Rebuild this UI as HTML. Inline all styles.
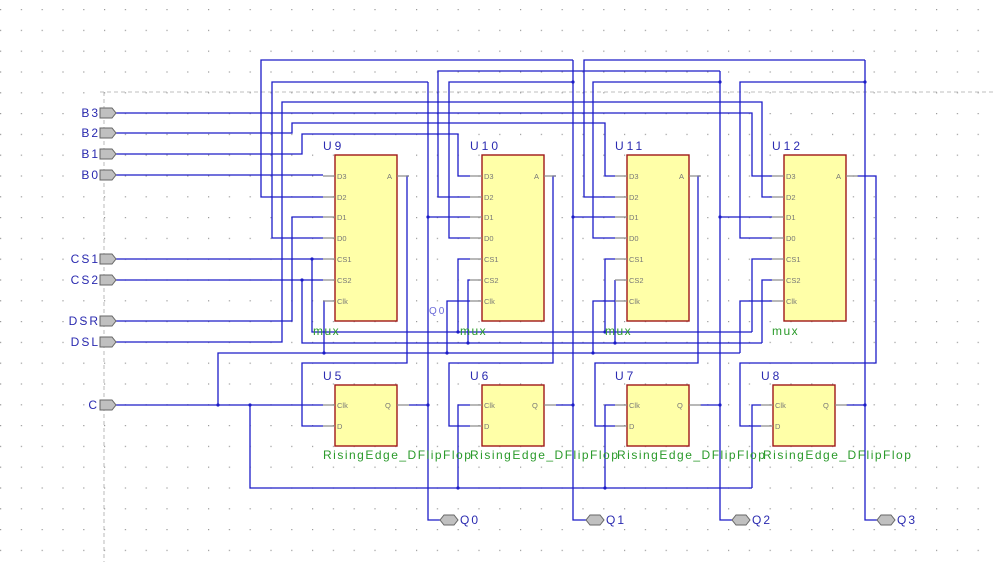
<!DOCTYPE html>
<html><head><style>
html,body{margin:0;padding:0;background:#fff;}
svg{display:block;}
.w{stroke:#1c1cc8;stroke-width:1.3;fill:none;}
.st{stroke:#888;stroke-width:1.2;}
.bx{fill:#ffffa8;stroke:#a01818;stroke-width:1.4;}
.pin{font:7.5px "Liberation Sans",sans-serif;fill:#777;}
.lab{font:12px "Liberation Sans",sans-serif;fill:#2a2ab0;letter-spacing:3px;}
.grn{font:12px "Liberation Sans",sans-serif;fill:#2a9a2a;letter-spacing:1.5px;}
.port{fill:#c0c0c0;stroke:#666;stroke-width:1;}
</style></head><body>
<svg width="996" height="562" viewBox="0 0 996 562" xmlns="http://www.w3.org/2000/svg">
<defs>
<pattern id="g" x="0" y="9" width="20.8" height="20.8" patternUnits="userSpaceOnUse">
<rect x="0" y="0" width="1.2" height="1.2" fill="#999"/>
</pattern>
</defs>
<rect width="996" height="562" fill="url(#g)"/>
<line x1="100" y1="92" x2="996" y2="92" stroke="#aaa" stroke-dasharray="4,3" stroke-width="0.8"/>
<line x1="104" y1="92" x2="104" y2="562" stroke="#aaa" stroke-dasharray="4,3" stroke-width="0.8"/>

<g class="w">
<!-- inputs -->
<polyline points="116,113 752,113 752,176 772,176"/>
<polyline points="116,133 292,133 292,123 605,123 605,176 615,176"/>
<polyline points="116,154 302,154 302,134 458,134 458,176 470,176"/>
<polyline points="116,175 323,175"/>
<polyline points="116,259 323,259"/>
<polyline points="116,280 323,280"/>
<polyline points="116,321 292,321 292,217 323,217"/>
<polyline points="116,342 282,342 282,102 762,102 762,197 772,197"/>
<polyline points="116,405 323,405"/>
<!-- CS buses -->
<polyline points="312,259 312,332 752,332"/>
<polyline points="458,332 458,259 470,259"/>
<polyline points="605,332 605,259 615,259"/>
<polyline points="752,332 752,259 772,259"/>
<polyline points="302,280 302,343 762,343"/>
<polyline points="468,343 468,280 470,280"/>
<polyline points="615,343 615,280 615,280"/>
<polyline points="762,343 762,280 772,280"/>
<!-- mux clocks -->
<polyline points="218,405 218,353 740,353"/>
<polyline points="324,353 324,301 323,301"/>
<polyline points="447,353 447,301 470,301"/>
<polyline points="593,353 593,301 615,301"/>
<polyline points="740,353 740,301 772,301"/>
<!-- FF clocks -->
<polyline points="250,405 250,488 752,488"/>
<polyline points="458,488 458,405 470,405"/>
<polyline points="605,488 605,405 615,405"/>
<polyline points="752,488 752,405 761,405"/>
<!-- mux outputs to FF D -->
<polyline points="409,176 407,176 407,363 302,363 302,426 323,426"/>
<polyline points="556,176 553,176 553,363 449,363 449,426 470,426"/>
<polyline points="700,176 698,176 698,363 595,363 595,426 615,426"/>
<polyline points="857,176 876,176 876,363 740,363 740,426 761,426"/>
<!-- FF outputs -->
<polyline points="409,405 428,405"/>
<polyline points="556,405 573,405"/>
<polyline points="700,405 720,405"/>
<polyline points="846,405 865,405"/>
<polyline points="428,82 428,520 440,520"/>
<polyline points="428,82 272,82 272,238 323,238"/>
<polyline points="428,217 470,217"/>
<polyline points="573,60 573,520 586,520"/>
<polyline points="573,60 261,60 261,197 323,197"/>
<polyline points="573,82 449,82 449,238 470,238"/>
<polyline points="573,217 615,217"/>
<polyline points="720,71 720,520 732,520"/>
<polyline points="720,71 438,71 438,197 470,197"/>
<polyline points="720,82 593,82 593,238 615,238"/>
<polyline points="720,217 772,217"/>
<polyline points="865,60 865,520 877,520"/>
<polyline points="865,60 584,60 584,197 615,197"/>
<polyline points="865,82 740,82 740,238 772,238"/>
</g>
<g fill="#1c1cc8">
<circle cx="312" cy="259" r="1.6"/><circle cx="302" cy="280" r="1.6"/><circle cx="218" cy="405" r="1.6"/><circle cx="250" cy="405" r="1.6"/>
<circle cx="428" cy="217" r="1.6"/><circle cx="573" cy="217" r="1.6"/><circle cx="720" cy="217" r="1.6"/>
<circle cx="428" cy="405" r="1.6"/><circle cx="573" cy="405" r="1.6"/><circle cx="720" cy="405" r="1.6"/><circle cx="865" cy="405" r="1.6"/>
<circle cx="573" cy="82" r="1.6"/><circle cx="720" cy="82" r="1.6"/><circle cx="865" cy="82" r="1.6"/>
<circle cx="458" cy="332" r="1.6"/><circle cx="605" cy="332" r="1.6"/><circle cx="468" cy="343" r="1.6"/><circle cx="615" cy="343" r="1.6"/>
<circle cx="324" cy="353" r="1.6"/><circle cx="447" cy="353" r="1.6"/><circle cx="593" cy="353" r="1.6"/>
<circle cx="458" cy="488" r="1.6"/><circle cx="605" cy="488" r="1.6"/>
</g>

<!-- mux blocks -->
<g id="m">
<rect class="bx" x="335" y="155" width="62" height="166"/>
<g class="st"><line x1="323" y1="176" x2="335" y2="176"/><line x1="323" y1="197" x2="335" y2="197"/><line x1="323" y1="217" x2="335" y2="217"/><line x1="323" y1="238" x2="335" y2="238"/><line x1="323" y1="259" x2="335" y2="259"/><line x1="323" y1="280" x2="335" y2="280"/><line x1="323" y1="301" x2="335" y2="301"/><line x1="397" y1="176" x2="409" y2="176"/></g>
<g class="pin"><text x="337" y="179">D3</text><text x="337" y="200">D2</text><text x="337" y="220">D1</text><text x="337" y="241">D0</text><text x="337" y="262">CS1</text><text x="337" y="283">CS2</text><text x="337" y="304">Clk</text><text x="387" y="179">A</text></g>
</g>
<use href="#m" x="147"/><use href="#m" x="292"/><use href="#m" x="449"/>
<g class="lab"><text x="323" y="150">U9</text><text x="470" y="150">U10</text><text x="615" y="150">U11</text><text x="772" y="150">U12</text>
<text x="323" y="380">U5</text><text x="470" y="380">U6</text><text x="615" y="380">U7</text><text x="761" y="380">U8</text></g>
<g class="grn"><text x="313" y="335">mux</text><text x="460" y="335">mux</text><text x="605" y="335">mux</text><text x="772" y="335">mux</text></g>

<!-- FF blocks -->
<g id="f">
<rect class="bx" x="335" y="385" width="62" height="61"/>
<g class="st"><line x1="323" y1="405" x2="335" y2="405"/><line x1="323" y1="426" x2="335" y2="426"/><line x1="397" y1="405" x2="409" y2="405"/></g>
<g class="pin"><text x="337" y="408">Clk</text><text x="337" y="429">D</text><text x="385" y="408">Q</text></g>
</g>
<use href="#f" x="147"/><use href="#f" x="292"/><use href="#f" x="438"/>
<g class="grn"><text x="323" y="459">RisingEdge_DFlipFlop</text><text x="470" y="459">RisingEdge_DFlipFlop</text><text x="617" y="459">RisingEdge_DFlipFlop</text><text x="763" y="459">RisingEdge_DFlipFlop</text></g>

<!-- input ports -->
<g class="port">
<polygon points="100,108 112,108 116,113 112,118 100,118"/>
<polygon points="100,128 112,128 116,133 112,138 100,138"/>
<polygon points="100,149 112,149 116,154 112,159 100,159"/>
<polygon points="100,170 112,170 116,175 112,180 100,180"/>
<polygon points="100,254 112,254 116,259 112,264 100,264"/>
<polygon points="100,275 112,275 116,280 112,285 100,285"/>
<polygon points="100,316 112,316 116,321 112,326 100,326"/>
<polygon points="100,337 112,337 116,342 112,347 100,347"/>
<polygon points="100,400 112,400 116,405 112,410 100,410"/>
<polygon points="440,520 444,515 454,515 458,520 454,525 444,525"/>
<polygon points="586,520 590,515 600,515 604,520 600,525 590,525"/>
<polygon points="732,520 736,515 746,515 750,520 746,525 736,525"/>
<polygon points="877,520 881,515 891,515 895,520 891,525 881,525"/>
</g>
<g class="lab" text-anchor="end" style="letter-spacing:2px">
<text x="100" y="117">B3</text><text x="100" y="137">B2</text><text x="100" y="158">B1</text><text x="100" y="179">B0</text>
<text x="100" y="263">CS1</text><text x="100" y="284">CS2</text><text x="100" y="325">DSR</text><text x="100" y="346">DSL</text><text x="99" y="409">C</text>
</g>
<g class="lab" style="letter-spacing:2px"><text x="460" y="524">Q0</text><text x="606" y="524">Q1</text><text x="752" y="524">Q2</text><text x="897" y="524">Q3</text>
<text x="429" y="314" style="font-size:10px;fill:#6a6ad8">Q0</text></g>
</svg>
</body></html>
